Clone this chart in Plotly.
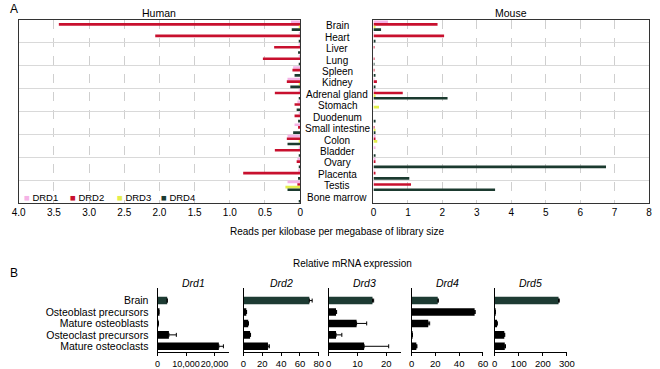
import plotly.graph_objects as go

# ---------------- Panel A data ----------------
tissues = ["Brain", "Heart", "Liver", "Lung", "Spleen", "Kidney", "Adrenal gland",
           "Stomach", "Duodenum", "Small intestine", "Colon", "Bladder", "Ovary",
           "Placenta", "Testis", "Bone marrow"]
receptors = ["DRD1", "DRD2", "DRD3", "DRD4"]

human_drd1 = [0.13, 0.01, 0.01, 0.01, 0.10, 0.18, 0.02, 0.04, 0.02, 0.08, 0.18, 0.02, 0.04, 0.03, 0.18, 0.00]
human_drd2 = [3.43, 2.06, 0.37, 0.53, 0.11, 0.19, 0.36, 0.08, 0.08, 0.03, 0.19, 0.36, 0.05, 0.81, 0.04, 0.00]
human_drd3 = [0.01, 0.00, 0.00, 0.00, 0.00, 0.01, 0.00, 0.00, 0.00, 0.00, 0.02, 0.00, 0.00, 0.00, 0.21, 0.00]
human_drd4 = [0.12, 0.01, 0.03, 0.01, 0.08, 0.14, 0.02, 0.05, 0.03, 0.10, 0.18, 0.01, 0.02, 0.03, 0.18, 0.01]

mouse_drd1 = [0.42, 0.02, 0.00, 0.00, 0.00, 0.02, 0.03, 0.02, 0.00, 0.00, 0.04, 0.03, 0.05, 0.02, 0.02, 0.00]
mouse_drd2 = [1.86, 2.05, 0.01, 0.02, 0.02, 0.10, 0.85, 0.00, 0.00, 0.02, 0.05, 0.00, 0.03, 0.04, 1.09, 0.00]
mouse_drd3 = [0.04, 0.00, 0.00, 0.00, 0.00, 0.00, 0.03, 0.16, 0.00, 0.05, 0.11, 0.00, 0.00, 0.00, 0.00, 0.00]
mouse_drd4 = [0.22, 0.03, 0.00, 0.02, 0.04, 0.03, 2.15, 0.00, 0.06, 0.05, 0.00, 0.06, 6.75, 1.04, 3.53, 0.00]

human_ticks = [0, 0.5, 1.0, 1.5, 2.0, 2.5, 3.0, 3.5, 4.0]
human_ticktext = ["0", "0.5", "1.0", "1.5", "2.0", "2.5", "3.0", "3.5", "4.0"]
mouse_ticks = [0, 1, 2, 3, 4, 5, 6, 7, 8]

# ---------------- Panel B data ----------------
cell_types = ["Brain", "Osteoblast precursors", "Mature osteoblasts",
              "Osteoclast precursors", "Mature osteoclasts"]
genes = ["Drd1", "Drd2", "Drd3", "Drd4", "Drd5"]
drd1_expr = [3400, 450, 350, 4000, 21500]
drd1_err = [0, 0, 0, 2600, 1600]
drd2_expr = [70, 3, 5, 7, 26]
drd2_err = [3, 0.3, 0.3, 0.5, 1.5]
drd3_expr = [15.2, 2.6, 9.7, 2.6, 12.3]
drd3_err = [0.4, 0.2, 3.5, 2.0, 8.5]
drd4_expr = [22, 53, 14, 0.6, 4]
drd4_err = [0.5, 0.5, 1.2, 0.1, 0.5]
drd5_expr = [265, 2, 10, 40, 42]
drd5_err = [3, 0.5, 1, 2, 3]

b_expr = [drd1_expr, drd2_expr, drd3_expr, drd4_expr, drd5_expr]
b_err = [drd1_err, drd2_err, drd3_err, drd4_err, drd5_err]
b_ranges = [[0, 25000], [0, 80], [0, 25], [0, 60], [0, 300]]
b_dticks = [10000, 20, 10, 20, 100]

# ---------------- styling ----------------
W, H = 660, 369
FONT = "Liberation Sans, Arial, sans-serif"
colors = ["#F5B3E6", "#C8102E", "#E4EE4C", "#1B3A2F"]
brain_col = "#1D3B33"
frame_col = "#333333"


def px_x(p):
    return p / W


def px_y(p):
    return 1 - p / H


fig = go.Figure()

human_vals = [human_drd1, human_drd2, human_drd3, human_drd4]
mouse_vals = [mouse_drd1, mouse_drd2, mouse_drd3, mouse_drd4]

for i, r in enumerate(receptors):
    fig.add_trace(go.Bar(x=human_vals[i], y=tissues, orientation="h", name=r,
                         marker=dict(color=colors[i], line=dict(width=0)),
                         showlegend=False, xaxis="x", yaxis="y"))
for i, r in enumerate(receptors):
    fig.add_trace(go.Bar(x=mouse_vals[i], y=tissues, orientation="h", name=r,
                         marker=dict(color=colors[i], line=dict(width=0)),
                         showlegend=False, xaxis="x2", yaxis="y2"))

# Panel B traces
for k, g in enumerate(genes):
    ax = k + 3
    fig.add_trace(go.Bar(
        x=b_expr[k], y=cell_types, orientation="h", width=0.66, name=g,
        marker=dict(color=[brain_col] + ["#000000"] * 4, line=dict(width=0)),
        error_x=dict(type="data", array=b_err[k], arrayminus=[0] * 5, symmetric=False,
                     color="#000000", thickness=1, width=2),
        showlegend=False, xaxis=f"x{ax}", yaxis=f"y{ax}"))

layout = dict(
    width=W, height=H,
    margin=dict(l=0, r=0, t=0, b=0),
    paper_bgcolor="white", plot_bgcolor="white",
    font=dict(family=FONT, size=10, color="#000000"),
    barmode="group", bargap=0.08, bargroupgap=0,
    showlegend=False,
)

y_common_a = dict(type="category", categoryorder="array", categoryarray=tissues,
                  range=[15.5, -0.5], tickson="boundaries", showgrid=True,
                  gridcolor="#d9d9d9", gridwidth=1, showticklabels=False, ticks="",
                  showline=True, mirror=True, linecolor=frame_col, linewidth=1,
                  zeroline=False, fixedrange=True)

layout["xaxis"] = dict(domain=[px_x(12), px_x(300)], anchor="y", range=[4, 0],
                       tickvals=human_ticks, ticktext=human_ticktext, ticks="",
                       showgrid=True, griddash="dash", gridcolor="#cfcfcf",
                       showline=True, mirror=True, linecolor=frame_col, zeroline=False,
                       tickfont=dict(size=10), tickangle=0)
layout["yaxis"] = dict(domain=[px_y(203), px_y(20)], anchor="x", **y_common_a)
layout["xaxis2"] = dict(domain=[px_x(375), px_x(657)], anchor="y2", range=[0, 8],
                        tickvals=mouse_ticks, ticks="",
                        showgrid=True, griddash="dash", gridcolor="#cfcfcf",
                        showline=True, mirror=True, linecolor=frame_col, zeroline=False,
                        tickfont=dict(size=10), tickangle=0)
layout["yaxis2"] = dict(domain=[px_y(203), px_y(20)], anchor="x2", **y_common_a)

b_domains = [(154, 227), (242, 319), (329, 403), (414, 487), (499, 573)]
for k in range(5):
    ax = k + 3
    d0, d1 = b_domains[k]
    xa = dict(domain=[px_x(d0), px_x(d1)], anchor=f"y{ax}", range=b_ranges[k],
              dtick=b_dticks[k], tick0=0, ticks="outside", ticklen=3, tickcolor="#000000",
              showgrid=False, zeroline=False, showline=True, linecolor="#000000",
              tickfont=dict(size=9.5), tickangle=0)
    if k == 0:
        xa["tickformat"] = ","
        xa["tickfont"] = dict(size=9)
    layout[f"xaxis{ax}"] = xa
    layout[f"yaxis{ax}"] = dict(domain=[px_y(352), px_y(288)], anchor=f"x{ax}",
                                type="category", categoryorder="array",
                                categoryarray=cell_types, range=[4.5, -1.1],
                                tickmode="array", tickvals=cell_types,
                                showgrid=False, zeroline=False, showline=True,
                                linecolor="#000000", ticks="",
                                showticklabels=(k == 0), ticklabelstandoff=6,
                                tickfont=dict(size=10.5))

annotations = []
annotations.append(dict(text="A", x=px_x(1), y=1, xref="paper", yref="paper",
                        xanchor="left", yanchor="top", showarrow=False, font=dict(size=12)))
annotations.append(dict(text="B", x=px_x(1), y=px_y(273), xref="paper", yref="paper",
                        xanchor="left", yanchor="middle", showarrow=False, font=dict(size=12)))
annotations.append(dict(text="Human", x=px_x(156), y=px_y(13), xref="paper", yref="paper",
                        xanchor="center", yanchor="middle", showarrow=False, font=dict(size=10.5)))
annotations.append(dict(text="Mouse", x=px_x(516), y=px_y(13), xref="paper", yref="paper",
                        xanchor="center", yanchor="middle", showarrow=False, font=dict(size=10.5)))
annotations.append(dict(text="Reads per kilobase per megabase of library size",
                        x=px_x(338), y=px_y(231), xref="paper", yref="paper",
                        xanchor="center", yanchor="middle", showarrow=False, font=dict(size=10)))
annotations.append(dict(text="Relative mRNA expression",
                        x=px_x(354), y=px_y(263), xref="paper", yref="paper",
                        xanchor="center", yanchor="middle", showarrow=False, font=dict(size=10)))
for k, g in enumerate(genes):
    d0, d1 = b_domains[k]
    annotations.append(dict(text=f"<i>{g}</i>", x=px_x((d0 + d1) / 2), y=px_y(283),
                            xref="paper", yref="paper", xanchor="center", yanchor="middle",
                            showarrow=False, font=dict(size=10.5)))
for t in tissues:
    annotations.append(dict(text=t, x=px_x(338), y=t, xref="paper", yref="y",
                            xanchor="center", yanchor="middle", showarrow=False,
                            font=dict(size=10)))
# legend (key) inside the human panel
legend_x = [15, 62, 111, 156]
for i, r in enumerate(receptors):
    annotations.append(dict(text=f"<span style='color:{colors[i]}'>■</span> {r}",
                            x=px_x(legend_x[i]), y=px_y(197), xref="paper", yref="paper",
                            xanchor="left", yanchor="middle", showarrow=False,
                            font=dict(size=9.5)))
layout["annotations"] = annotations

fig.update_layout(**layout)
fig.write_html("out.html", config={"displayModeBar": False},
               post_script="document.body.style.margin='0px';")
